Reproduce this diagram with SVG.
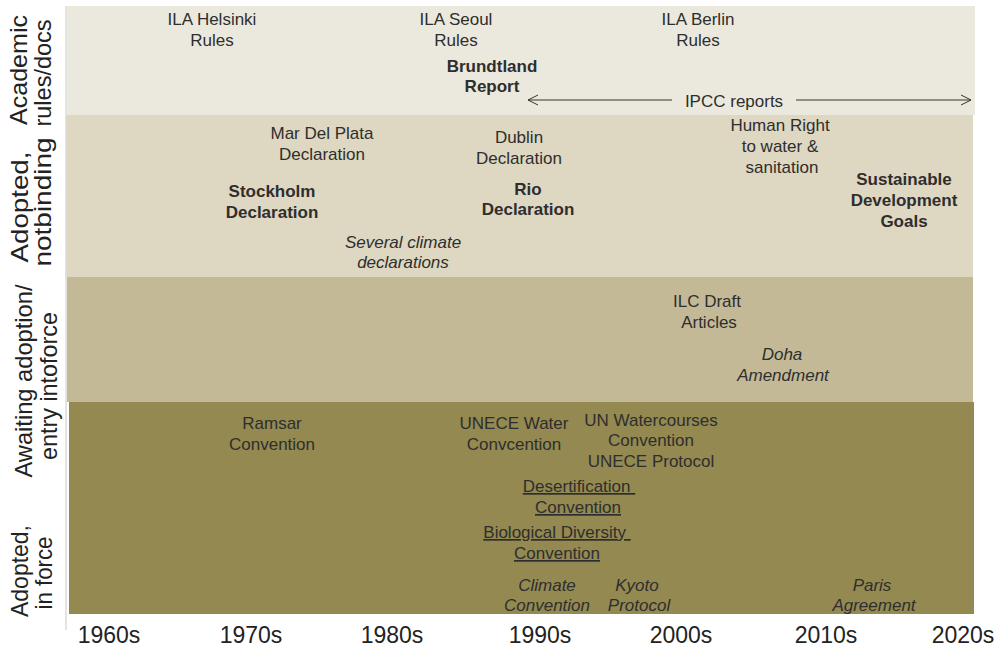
<svg xmlns="http://www.w3.org/2000/svg" width="1000" height="646" viewBox="0 0 1000 646">
<style>
text{font-family:"Liberation Sans",Arial,sans-serif;fill:#2e2e2e;font-size:17px;text-anchor:middle}
.b{font-weight:bold}
.i{font-style:italic}
.u{text-decoration:underline}
.ax{font-size:23px;fill:#222}
.lab{font-size:24px;fill:#222}
</style>
<defs>
<marker id="open" viewBox="0 0 12 12" refX="11" refY="6" markerWidth="12" markerHeight="12" markerUnits="userSpaceOnUse" orient="auto-start-reverse">
<path d="M1,1 L11,6 L1,11" fill="none" stroke="#333" stroke-width="1"/>
</marker>
</defs>
<rect width="1000" height="646" fill="#ffffff"/>
<g id="bands">
<rect x="67" y="6" width="908" height="109" fill="#ebe9dd"/>
<rect x="66" y="115" width="907" height="162" fill="#ded7c1"/>
<rect x="67" y="277" width="906" height="125" fill="#c3b996"/>
<rect x="69" y="402" width="905" height="212" fill="#938951"/>
<line x1="66" y1="6" x2="66" y2="630" stroke="#dcdcd4" stroke-width="1.5"/>
</g>
<g id="row-labels">
<text class="lab" transform="translate(27,70) rotate(-90)" textLength="110" lengthAdjust="spacingAndGlyphs">Academic</text>
<text class="lab" transform="translate(51,73) rotate(-90)" textLength="107" lengthAdjust="spacingAndGlyphs">rules/docs</text>
<text class="lab" transform="translate(28,207) rotate(-90)" textLength="111" lengthAdjust="spacingAndGlyphs">Adopted,</text>
<text class="lab" transform="translate(51,202) rotate(-90)" textLength="129" lengthAdjust="spacingAndGlyphs">notbinding</text>
<text class="lab" transform="translate(32,381) rotate(-90)" textLength="193" lengthAdjust="spacingAndGlyphs">Awaiting adoption/</text>
<text class="lab" transform="translate(57,386) rotate(-90)" textLength="148" lengthAdjust="spacingAndGlyphs">entry intoforce</text>
<text class="lab" transform="translate(28,571) rotate(-90)" textLength="92" lengthAdjust="spacingAndGlyphs">Adopted,</text>
<text class="lab" transform="translate(52,573) rotate(-90)" textLength="73" lengthAdjust="spacingAndGlyphs">in force</text>
</g>
<g id="axis">
<text class="ax" x="109" y="643">1960s</text>
<text class="ax" x="251" y="643">1970s</text>
<text class="ax" x="392" y="643">1980s</text>
<text class="ax" x="540" y="643">1990s</text>
<text class="ax" x="681" y="643">2000s</text>
<text class="ax" x="826" y="643">2010s</text>
<text class="ax" x="963" y="643">2020s</text>
</g>
<g id="connectors">
<line x1="528" y1="100" x2="672" y2="100" stroke="#333" stroke-width="1" marker-start="url(#open)"/>
<line x1="796" y1="100" x2="971" y2="100" stroke="#333" stroke-width="1" marker-end="url(#open)"/>
</g>
<g id="ila-helsinki"><text x="212" y="25">ILA Helsinki</text><text x="212" y="46">Rules</text></g>
<g id="ila-seoul"><text x="456" y="25">ILA Seoul</text><text x="456" y="46">Rules</text></g>
<g id="brundtland"><text class="b" x="492" y="72">Brundtland</text><text class="b" x="492" y="92">Report</text></g>
<g id="ila-berlin"><text x="698" y="25">ILA Berlin</text><text x="698" y="46">Rules</text></g>
<g id="ipcc"><text x="734" y="107">IPCC reports</text></g>
<g id="mar-del-plata"><text x="322" y="139">Mar Del Plata</text><text x="322" y="160">Declaration</text></g>
<g id="stockholm"><text class="b" x="272" y="197">Stockholm</text><text class="b" x="272" y="218">Declaration</text></g>
<g id="dublin"><text x="519" y="143">Dublin</text><text x="519" y="164">Declaration</text></g>
<g id="rio"><text class="b" x="528" y="195">Rio</text><text class="b" x="528" y="215">Declaration</text></g>
<g id="climate-declarations"><text class="i" x="403" y="248">Several climate</text><text class="i" x="403" y="268">declarations</text></g>
<g id="human-right"><text x="780" y="131">Human Right</text><text x="780" y="152">to water &amp;</text><text x="782" y="173">sanitation</text></g>
<g id="sdg"><text class="b" x="904" y="185">Sustainable</text><text class="b" x="904" y="206">Development</text><text class="b" x="904" y="227">Goals</text></g>
<g id="ilc-draft"><text x="707" y="307">ILC Draft</text><text x="709" y="328">Articles</text></g>
<g id="doha"><text class="i" x="782" y="360">Doha</text><text class="i" x="783" y="381">Amendment</text></g>
<g id="ramsar"><text x="272" y="429">Ramsar</text><text x="272" y="450">Convention</text></g>
<g id="unece-water"><text x="514" y="429">UNECE Water</text><text x="514" y="450">Convcention</text></g>
<g id="un-watercourses"><text x="651" y="426">UN Watercourses</text><text x="651" y="446">Convention</text><text x="651" y="467">UNECE Protocol</text></g>
<g id="desertification"><text class="u" x="579" y="492">Desertification&#160;</text><text class="u" x="578" y="513">Convention</text></g>
<g id="biodiversity"><text class="u" x="557" y="538">Biological Diversity&#160;</text><text class="u" x="557" y="559">Convention</text></g>
<g id="climate-convention"><text class="i" x="547" y="591">Climate</text><text class="i" x="547" y="611">Convention</text></g>
<g id="kyoto"><text class="i" x="637" y="591">Kyoto</text><text class="i" x="639" y="611">Protocol</text></g>
<g id="paris"><text class="i" x="872" y="591">Paris</text><text class="i" x="874" y="611">Agreement</text></g>
</svg>
